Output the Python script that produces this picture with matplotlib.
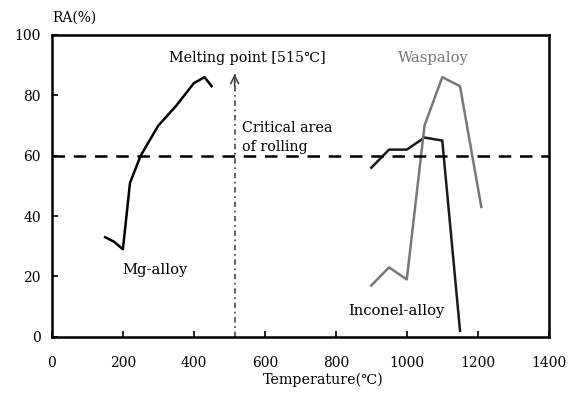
import numpy as np
import matplotlib
matplotlib.use("Agg")
import matplotlib.pyplot as plt

plt.rcParams['font.family'] = ['DejaVu Serif']

# Mg-alloy
mg_temp = [150, 175, 200, 220, 250, 300, 350, 400, 430, 450]
mg_ra = [33, 31.5, 29, 51, 60, 70, 76.5, 84, 86, 83]

# Inconel-alloy
inc_temp = [900, 950, 1000, 1050, 1100, 1150]
inc_ra = [56, 62, 62, 66, 65, 2]

# Waspaloy
wasp_temp = [900, 950, 1000, 1050, 1100, 1150, 1210]
wasp_ra = [17, 23, 19, 70, 86, 83, 43]

melting_point = 515
critical_ra = 60

xticks = [0, 200, 400, 600, 800, 1000, 1200, 1400]
yticks = [0, 20, 40, 60, 80, 100]

fig = plt.figure(figsize=(5.77, 4.01), dpi=100)
ax = fig.add_axes([0.090, 0.160, 0.861, 0.753])

ax.plot(mg_temp, mg_ra, color='black', lw=1.8)
ax.plot(inc_temp, inc_ra, color='#1a1a1a', lw=1.8)
ax.plot(wasp_temp, wasp_ra, color='#777777', lw=1.8)

# Critical area line
ax.axhline(critical_ra, color='black', lw=1.8, ls=(0, (5, 3.5)))

# Melting point: dash-dot line plus open arrow head
ax.plot([melting_point, melting_point], [0, 87], color='#555555', lw=1.3,
        ls=(0, (3, 2, 1, 2)))
ax.annotate('', xy=(melting_point, 88), xytext=(melting_point, 82),
            arrowprops=dict(arrowstyle='->', color='#444444', lw=1.2,
                            mutation_scale=14))

ax.text(552, 92.5, 'Melting point [515℃]', ha='center', va='center', fontsize=10.3)
ax.text(535, 66, 'Critical area\nof rolling', ha='left', va='center',
        fontsize=10.3, linespacing=1.4)
ax.text(1074, 92.5, 'Waspaloy', ha='center', va='center', fontsize=10.6,
        color='#777777')
ax.text(290, 22, 'Mg-alloy', ha='center', va='center', fontsize=10.6)
ax.text(970, 8.6, 'Inconel-alloy', ha='center', va='center', fontsize=10.6)

ax.set_xlim(0, 1400)
ax.set_ylim(0, 100)
ax.set_xticks(xticks)
ax.set_yticks(yticks)
ax.tick_params(direction='in', length=4, width=1.2, labelsize=10)
ax.tick_params(axis='x', pad=14)
ax.tick_params(axis='y', pad=8)
for sp in ax.spines.values():
    sp.set_linewidth(1.8)

fig.text(0.090, 0.957, 'RA(%)', ha='left', va='center', fontsize=10)
fig.text(0.56, 0.052, 'Temperature(℃)', ha='center', va='center', fontsize=10.3)

fig.savefig('out.png', dpi=100)
